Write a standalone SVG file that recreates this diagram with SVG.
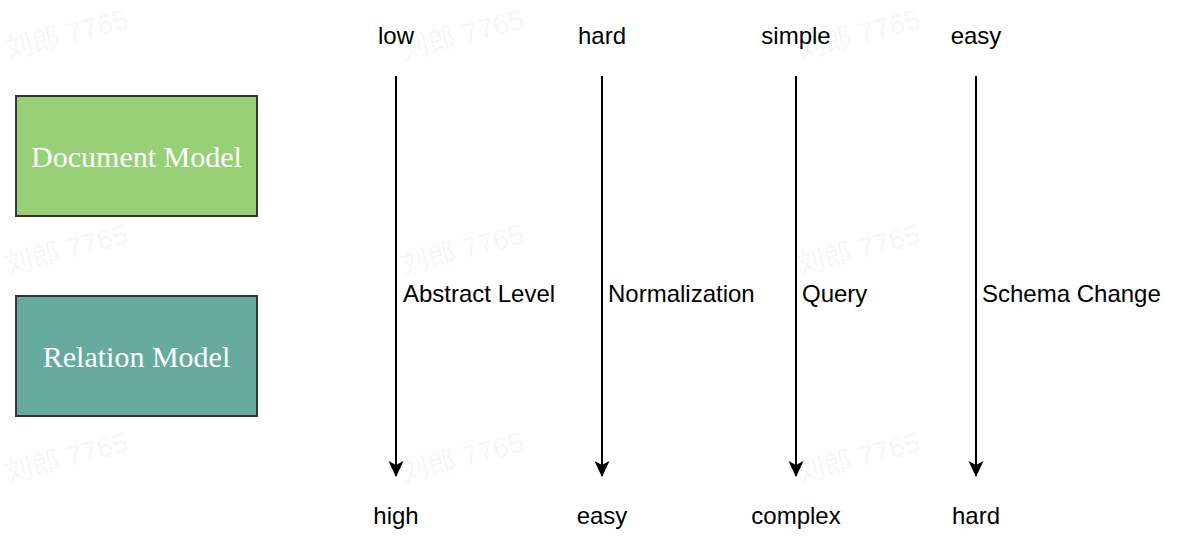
<svg xmlns="http://www.w3.org/2000/svg" width="1177" height="554" viewBox="0 0 1177 554">
<style>
.lbl{font-family:"Liberation Sans",Arial,sans-serif;font-size:24px;fill:#000}
.end{text-anchor:middle}
.box{stroke:#333;stroke-width:2}
.name{font-family:"Liberation Serif","Times New Roman",serif;font-size:30px;fill:#fff;text-anchor:middle}
.wm{font-family:"Liberation Sans","Noto Sans CJK SC",sans-serif;font-size:28px;fill:#000;fill-opacity:0.055}
.ln{stroke:#000;stroke-width:2;fill:none}
</style>
<defs>
<marker id="arr" viewBox="0 0 16 16" refX="15" refY="8" markerWidth="16" markerHeight="16" markerUnits="userSpaceOnUse" orient="auto">
<path d="M0,0.5 L16,8 L0,15.5 L4,8 Z" fill="#000"/>
</marker>
</defs>
<rect width="1177" height="554" fill="#fff"/>
<g id="watermarks">
<text class="wm" transform="translate(8,60) rotate(-15)">刘郎 7765</text>
<text class="wm" transform="translate(404,60) rotate(-15)">刘郎 7765</text>
<text class="wm" transform="translate(800,60) rotate(-15)">刘郎 7765</text>
<text class="wm" transform="translate(8,275) rotate(-15)">刘郎 7765</text>
<text class="wm" transform="translate(404,275) rotate(-15)">刘郎 7765</text>
<text class="wm" transform="translate(800,275) rotate(-15)">刘郎 7765</text>
<text class="wm" transform="translate(8,483) rotate(-15)">刘郎 7765</text>
<text class="wm" transform="translate(404,483) rotate(-15)">刘郎 7765</text>
<text class="wm" transform="translate(800,483) rotate(-15)">刘郎 7765</text>
</g>
<g id="document-model">
<rect class="box" x="16" y="96" width="241" height="120" fill="#97D077"/>
<text class="name" x="136.5" y="167">Document Model</text>
</g>
<g id="relation-model">
<rect class="box" x="16" y="296" width="241" height="120" fill="#67AB9F"/>
<text class="name" x="136.5" y="367">Relation Model</text>
</g>
<g id="connectors">
<line class="ln" x1="396" y1="76" x2="396" y2="476" marker-end="url(#arr)"/>
<line class="ln" x1="602" y1="76" x2="602" y2="476" marker-end="url(#arr)"/>
<line class="ln" x1="796" y1="76" x2="796" y2="476" marker-end="url(#arr)"/>
<line class="ln" x1="976" y1="76" x2="976" y2="476" marker-end="url(#arr)"/>
<text class="lbl" x="403" y="302">Abstract Level</text>
<text class="lbl" x="608" y="302">Normalization</text>
<text class="lbl" x="802" y="302">Query</text>
<text class="lbl" x="982" y="302">Schema Change</text>
</g>
<g id="top-labels">
<text class="lbl end" x="396" y="44">low</text>
<text class="lbl end" x="602" y="44">hard</text>
<text class="lbl end" x="796" y="44">simple</text>
<text class="lbl end" x="976" y="44">easy</text>
</g>
<g id="bottom-labels">
<text class="lbl end" x="396" y="524">high</text>
<text class="lbl end" x="602" y="524">easy</text>
<text class="lbl end" x="796" y="524">complex</text>
<text class="lbl end" x="976" y="524">hard</text>
</g>
</svg>
